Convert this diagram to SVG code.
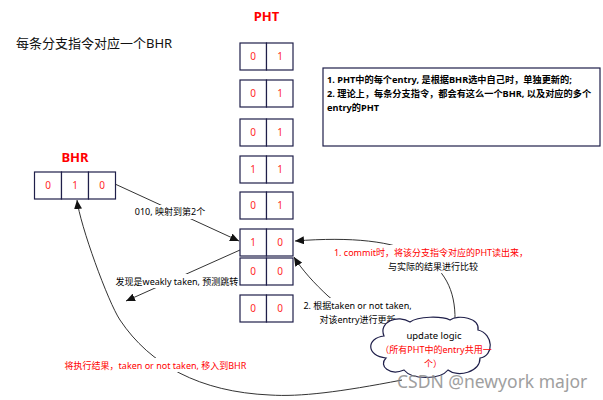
<svg xmlns="http://www.w3.org/2000/svg" width="603" height="400" viewBox="0 0 603 400">
<style>
text{font-family:"Noto Sans","Noto Sans CJK SC",sans-serif;}
.cell{fill:#fff;stroke:#1f1f4a;stroke-width:1.2;}
.dig{font-size:10px;fill:#ff2a2a;text-anchor:middle;}
.ttl{font-size:13px;font-weight:bold;fill:#ff0000;text-anchor:middle;}
.lbl{font-size:9px;fill:#000;text-anchor:middle;}
.red{fill:#ff0000;}
.note{font-size:9.2px;font-weight:bold;fill:#000;}
.con{fill:none;stroke:#333;stroke-width:1;}
.bg{fill:#fff;stroke:none;}
</style>
<defs>
<marker id="ah" markerUnits="userSpaceOnUse" markerWidth="10" markerHeight="8" refX="9" refY="4" orient="auto">
<path d="M0,0 L9,4 L0,8 z" fill="#111"/>
</marker>
</defs>
<rect width="603" height="400" fill="#fff"/>

<g id="title"><text x="16" y="48" style="font-size:13px;fill:#111;">每条分支指令对应一个BHR</text></g>

<g id="note">
<rect x="323" y="68" width="277" height="78" class="cell"/>
<text class="note" x="327" y="82.5">1. PHT中的每个entry, 是根据BHR选中自己时，单独更新的;</text>
<text class="note" x="327" y="97">2. 理论上，每条分支指令，都会有这么一个BHR, 以及对应的多个</text>
<text class="note" x="327" y="111">entry的PHT</text>
</g>

<g id="connectors">
<path class="con" d="M115,184 L239,241" marker-end="url(#ah)"/>
<path class="con" d="M240,250 L126,301" marker-end="url(#ah)"/>
<path class="con" d="M455,320 C456,260 410,232 295,241" marker-end="url(#ah)"/>
<path class="con" d="M403,331 C390,318 350,316 328,296 C315,284 302,270 294,257" marker-end="url(#ah)"/>
<path class="con" d="M402,380 C340,392 300,397 270,395 C200,392 150,365 120,320 C108,302 80,225 77,200" marker-end="url(#ah)"/>
<rect class="bg" x="136" y="205" width="69" height="14"/>
<text class="lbl" x="170" y="215">010, 映射到第2个</text>
<rect class="bg" x="114" y="274" width="125" height="14"/>
<text class="lbl" x="177" y="284.5">发现是weakly taken, 预测跳转</text>
<rect class="bg" x="335" y="245" width="192" height="28"/>
<text class="lbl red" x="431" y="255.5">1. commit时，将该分支指令对应的PHT读出来，</text>
<text class="lbl" x="433" y="269.5">与实际的结果进行比较</text>
<rect class="bg" x="300" y="298" width="115" height="28"/>
<text class="lbl" x="357.5" y="308.5">2. 根据taken or not taken,</text>
<text class="lbl" x="357.5" y="322.5">对该entry进行更新</text>
<rect class="bg" x="62" y="358" width="188" height="14"/>
<text class="lbl red" x="155.5" y="368.5">将执行结果，taken or not taken, 移入到BHR</text>
</g>

<g id="pht">
<text class="ttl" x="266.5" y="20.5">PHT</text>
<g id="pht-row1"><rect class="cell" x="240" y="43" width="26.5" height="27"/><rect class="cell" x="266.5" y="43" width="26.5" height="27"/><text class="dig" x="253" y="60">0</text><text class="dig" x="280" y="60">1</text></g>
<g id="pht-row2"><rect class="cell" x="240" y="80" width="26.5" height="27"/><rect class="cell" x="266.5" y="80" width="26.5" height="27"/><text class="dig" x="253" y="97">0</text><text class="dig" x="280" y="97">1</text></g>
<g id="pht-row3"><rect class="cell" x="240" y="119" width="26.5" height="27"/><rect class="cell" x="266.5" y="119" width="26.5" height="27"/><text class="dig" x="253" y="136">0</text><text class="dig" x="280" y="136">1</text></g>
<g id="pht-row4"><rect class="cell" x="240" y="156" width="26.5" height="27"/><rect class="cell" x="266.5" y="156" width="26.5" height="27"/><text class="dig" x="253" y="173">1</text><text class="dig" x="280" y="173">1</text></g>
<g id="pht-row5"><rect class="cell" x="240" y="192" width="26.5" height="27"/><rect class="cell" x="266.5" y="192" width="26.5" height="27"/><text class="dig" x="253" y="209">0</text><text class="dig" x="280" y="209">1</text></g>
<g id="pht-row6"><rect class="cell" x="240" y="229" width="26.5" height="27"/><rect class="cell" x="266.5" y="229" width="26.5" height="27"/><text class="dig" x="253" y="246">1</text><text class="dig" x="280" y="246">0</text></g>
<g id="pht-row7"><rect class="cell" x="240" y="258" width="26.5" height="27"/><rect class="cell" x="266.5" y="258" width="26.5" height="27"/><text class="dig" x="253" y="275">0</text><text class="dig" x="280" y="275">0</text></g>
<g id="pht-row8"><rect class="cell" x="240" y="295" width="26.5" height="27"/><rect class="cell" x="266.5" y="295" width="26.5" height="27"/><text class="dig" x="253" y="312">0</text><text class="dig" x="280" y="312">0</text></g>
</g>

<g id="bhr">
<text class="ttl" x="75" y="161.5">BHR</text>
<rect class="cell" x="34.5" y="172" width="27" height="27"/>
<rect class="cell" x="61.5" y="172" width="27" height="27"/>
<rect class="cell" x="88.5" y="172" width="27" height="27"/>
<text class="dig" x="48" y="189">0</text>
<text class="dig" x="75" y="189">1</text>
<text class="dig" x="102" y="189">0</text>
</g>

<g id="update-logic">
<path d="M384,336 C378,322 398,314 410,322 C418,316 442,316 450,320 C458,314 480,318 478,330 C494,334 494,356 480,358 C480,372 458,378 448,370 C440,380 412,380 404,370 C390,376 378,366 386,358 C366,356 366,338 384,336 Z" fill="#fff" stroke="#1f1f4a" stroke-width="1.2"/>
<text class="lbl" x="434" y="338.5" style="font-size:9.5px;">update logic</text>
<text class="lbl red" x="436" y="352.5">（所有PHT中的entry共用一</text>
<text class="lbl red" x="433" y="366.5">个）</text>
</g>

<text x="397" y="388" style="font-size:17.5px;fill:#888;opacity:0.8;">CSDN @newyork major</text>
</svg>
